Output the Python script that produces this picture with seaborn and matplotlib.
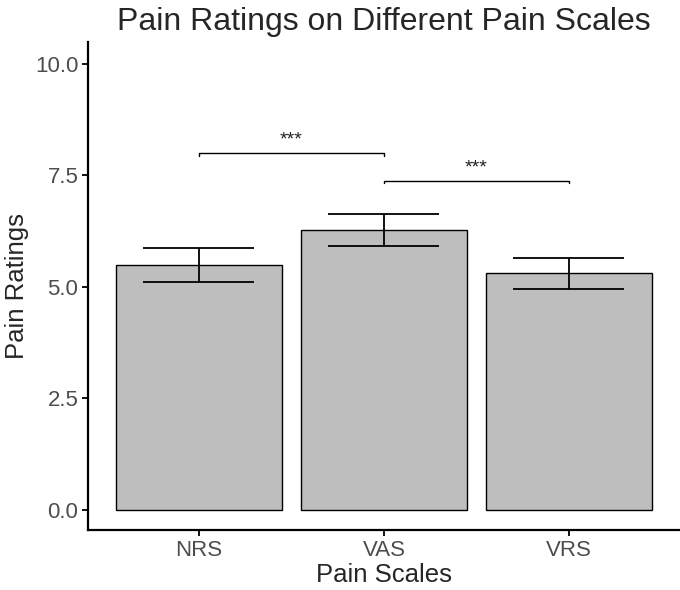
import matplotlib.pyplot as plt
import numpy as np
import pandas as pd
import seaborn as sns

scales = ['NRS', 'VAS', 'VRS']
ratings = [5.49, 6.28, 5.31]
err_low = [5.12, 5.92, 4.96]
err_high = [5.87, 6.64, 5.64]
yticks = [0.0, 2.5, 5.0, 7.5, 10.0]

# significance brackets: (left index, right index, height, label)
brackets = [(0, 1, 8.0, '***'), (1, 2, 7.38, '***')]

sns.set_style('white')
plt.rcParams['font.family'] = ['Liberation Sans', 'DejaVu Sans']

df = pd.DataFrame({'Pain Scales': scales, 'Pain Ratings': ratings})

fig = plt.figure(figsize=(6.8, 5.9), dpi=100)
ax = fig.add_axes([0.1294, 0.1017, 0.8706, 0.8271])

sns.barplot(data=df, x='Pain Scales', y='Pain Ratings', color='#BEBEBE',
            edgecolor='black', linewidth=1.0, width=0.9, errorbar=None,
            saturation=1, ax=ax)

# error bars
for i in range(len(scales)):
    ax.vlines(i, err_low[i], err_high[i], color='black', lw=1.3)
    ax.hlines([err_low[i], err_high[i]], i - 0.3, i + 0.3, color='black', lw=1.3)

# brackets
for a, b, h, lab in brackets:
    ax.plot([a, a, b, b], [h - 0.06, h, h, h - 0.06], color='black', lw=1.0)
    ax.text((a + b) / 2, h + 0.1, lab, ha='center', va='bottom', fontsize=14,
            color='#222222')

ax.set_xlim(-0.6, 2.6)
ax.set_ylim(-0.45, 10.49)
ax.set_yticks(yticks)
ax.set_yticklabels([f'{t:.1f}' for t in yticks])

sns.despine(ax=ax)
for s in ['left', 'bottom']:
    ax.spines[s].set_linewidth(1.6)
    ax.spines[s].set_color('black')
ax.tick_params(axis='both', length=4, width=1.3, color='black',
               labelsize=16, labelcolor='#4D4D4D', direction='out', pad=3,
               left=True, bottom=True)
ax.tick_params(axis='x', pad=3)

ax.set_xlabel('Pain Scales', fontsize=18.5, labelpad=2)
ax.set_ylabel('Pain Ratings', fontsize=18.5, labelpad=4)
ax.set_title('Pain Ratings on Different Pain Scales', fontsize=23, pad=9)

fig.savefig('out.png', dpi=100)
